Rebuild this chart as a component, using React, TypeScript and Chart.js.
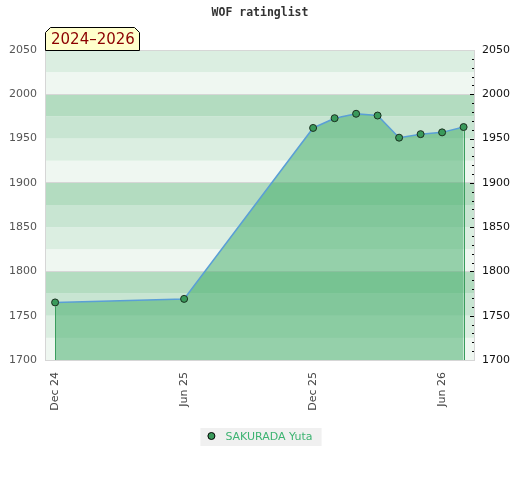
import React, { useEffect, useRef } from 'react';
import { Chart, registerables } from 'chart.js';

Chart.register(...registerables);

// ---- data ----
const monthIndex = [0, 6, 12, 13, 14, 15, 16, 17, 18, 19]; // months since Dec 2024
const ratings = [1765, 1769, 1962, 1973, 1978, 1976, 1951, 1955, 1957, 1963];
const xTickValues = [0, 6, 12, 18];
const xTickLabels = ['Dec 24', 'Jun 25', 'Dec 25', 'Jun 26'];
const yMin = 1700;
const yMax = 2050;
const yStep = 50;
const playerName = 'SAKURADA Yuta';
const chartTitle = 'WOF ratinglist';
const periodLabel = '2024–2026';
const bandColors = ['#eff7f1', '#dbeee1', '#c8e5d2', '#b3dcc0'];

const FONT = "'DejaVu Sans', sans-serif";

const decorPlugin = {
  id: 'decor',
  beforeDraw(chart: any) {
    const { ctx, chartArea: a, scales } = chart;
    const y = scales.y;
    ctx.save();
    for (let v = yMin, i = 0; v < yMax; v += 25, i++) {
      const top = y.getPixelForValue(v + 25);
      const bot = y.getPixelForValue(v);
      ctx.fillStyle = bandColors[i % 4];
      ctx.fillRect(a.left, top, a.right - a.left, bot - top);
    }
    ctx.restore();
  },
  afterDatasetsDraw(chart: any) {
    const { ctx, chartArea: a } = chart;
    const meta = chart.getDatasetMeta(0);
    const pts = [meta.data[0], meta.data[meta.data.length - 1]];
    ctx.save();
    ctx.strokeStyle = '#3a9d5d';
    ctx.lineWidth = 1;
    for (const p of pts) {
      const x = Math.round(p.x) + 0.5;
      ctx.beginPath();
      ctx.moveTo(x, p.y + 4);
      ctx.lineTo(x, a.bottom);
      ctx.stroke();
    }
    ctx.restore();
  },
  afterDraw(chart: any) {
    const { ctx, chartArea: a, scales } = chart;
    const yr = scales.y2;
    ctx.save();
    // plot border
    ctx.strokeStyle = '#d6d6d6';
    ctx.lineWidth = 1;
    ctx.strokeRect(Math.round(a.left) + 0.5, Math.round(a.top) + 0.5, Math.round(a.right - a.left) - 1, Math.round(a.bottom - a.top));
    // right minor ticks
    ctx.strokeStyle = '#000';
    for (let v = yMin + 10; v < yMax; v += 10) {
      const py = Math.round(yr.getPixelForValue(v)) + 0.5;
      const len = v % 50 === 0 ? 4 : 2;
      ctx.beginPath();
      ctx.moveTo(a.right - 1 - len, py);
      ctx.lineTo(a.right - 1, py);
      ctx.stroke();
    }
    // title
    ctx.fillStyle = '#333';
    ctx.font = "bold 11.5px 'DejaVu Sans Mono', monospace";
    ctx.textAlign = 'center';
    ctx.textBaseline = 'middle';
    ctx.fillText(chartTitle, chart.width / 2, 13);
    // period label box
    const bl = a.left, br = a.left + 95, bt = a.top - 23, bb = a.top, c = 5;
    ctx.beginPath();
    ctx.moveTo(bl + 0.5, bb + 0.5);
    ctx.lineTo(bl + 0.5, bt + c + 0.5);
    ctx.lineTo(bl + c + 0.5, bt + 0.5);
    ctx.lineTo(br - c - 0.5, bt + 0.5);
    ctx.lineTo(br - 0.5, bt + c + 0.5);
    ctx.lineTo(br - 0.5, bb + 0.5);
    ctx.closePath();
    ctx.fillStyle = '#ffffcc';
    ctx.fill();
    ctx.strokeStyle = '#000';
    ctx.stroke();
    ctx.fillStyle = '#8b0000';
    ctx.font = `15px ${FONT}`;
    ctx.textAlign = 'left';
    ctx.textBaseline = 'middle';
    ctx.fillText(periodLabel, bl + 6, bt + 13);
    // legend
    ctx.font = `11px ${FONT}`;
    const tw = ctx.measureText(playerName).width;
    const boxW = tw + 34;
    const lx = chart.width / 2 - boxW / 2 + 1;
    const ly = 428;
    ctx.fillStyle = '#f0f0f0';
    ctx.fillRect(lx, ly, boxW, 18);
    ctx.beginPath();
    ctx.arc(lx + 11, ly + 8, 3.5, 0, Math.PI * 2);
    ctx.fillStyle = '#3a9a5b';
    ctx.fill();
    ctx.strokeStyle = '#000';
    ctx.lineWidth = 1;
    ctx.stroke();
    ctx.fillStyle = '#3cb371';
    ctx.textAlign = 'left';
    ctx.textBaseline = 'middle';
    ctx.fillText(playerName, lx + 25, ly + 9);
    ctx.restore();
  },
};

export default function App() {
  const ref = useRef<HTMLCanvasElement | null>(null);
  useEffect(() => {
    if (!ref.current) return;
    Chart.defaults.font.family = FONT;
    const chart = new Chart(ref.current, {
      type: 'line',
      data: {
        datasets: [
          {
            label: playerName,
            data: monthIndex.map((m, i) => ({ x: m, y: ratings[i] })),
            borderColor: '#5a9fd6',
            borderWidth: 1.5,
            backgroundColor: 'rgba(60,170,100,0.5)',
            fill: 'start',
            tension: 0,
            pointRadius: 3.5,
            pointBackgroundColor: '#3a9a5b',
            pointBorderColor: '#1a2e1f',
            pointBorderWidth: 1,
          },
        ],
      },
      options: {
        animation: false,
        responsive: false,
        layout: { padding: { top: 50, bottom: 60, left: 0, right: 0 } },
        plugins: {
          legend: { display: false },
          title: { display: false },
          tooltip: { enabled: false },
        },
        scales: {
          x: {
            type: 'linear',
            min: -0.47,
            max: 19.53,
            afterBuildTicks: (s: any) => {
              s.ticks = xTickValues.map((v) => ({ value: v }));
            },
            afterFit: (s: any) => {
              s.height = 60;
            },
            grid: { display: false, drawTicks: false },
            border: { display: false },
            ticks: {
              color: '#444',
              font: { size: 11 },
              minRotation: 90,
              maxRotation: 90,
              padding: 12,
              callback: (v: any) => {
                const i = xTickValues.indexOf(Number(v));
                return i >= 0 ? xTickLabels[i] : '';
              },
            },
          },
          y: {
            position: 'left',
            min: yMin,
            max: yMax,
            afterFit: (s: any) => {
              s.width = 45;
            },
            grid: {
              drawTicks: false,
              color: (c: any) =>
                c.tick && c.tick.value % 100 === 0 && c.tick.value !== yMin ? '#d6d6d6' : 'rgba(0,0,0,0)',
            },
            border: { display: false },
            ticks: { stepSize: yStep, color: '#555', font: { size: 11 }, padding: 8, callback: (v: any) => String(v) },
          },
          y2: {
            position: 'right',
            min: yMin,
            max: yMax,
            afterFit: (s: any) => {
              s.width = 45;
            },
            grid: { drawOnChartArea: false, drawTicks: false },
            border: { display: false },
            ticks: { stepSize: yStep, color: '#111', font: { size: 11 }, padding: 7, callback: (v: any) => String(v) },
          },
        },
      },
      plugins: [decorPlugin],
    });
    return () => chart.destroy();
  }, []);
  return (
    <div style={{ position: 'absolute', left: 0, top: 0, width: 520, height: 480 }}>
      <canvas ref={ref} width={520} height={480} />
    </div>
  );
}
